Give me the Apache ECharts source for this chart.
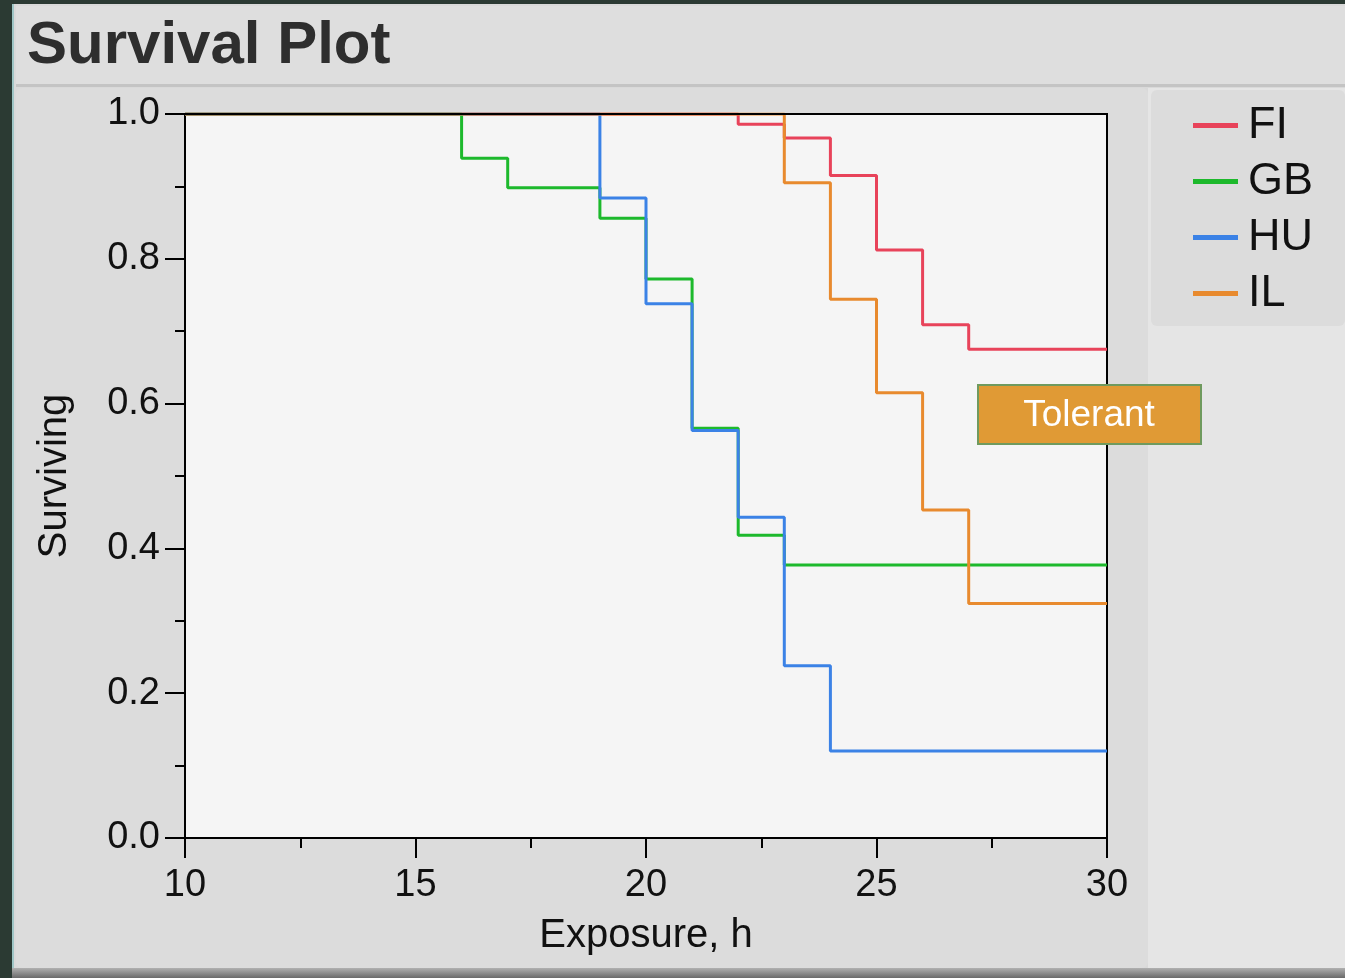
<!DOCTYPE html>
<html>
<head>
<meta charset="utf-8">
<script src="https://cdn.jsdelivr.net/npm/echarts@6/dist/echarts.min.js"></script>
<style>
html,body{margin:0;padding:0;background:#2b3a33;}
#chart{width:1345px;height:978px;}
</style>
</head>
<body>
<div id="chart"></div>
<script>
const seriesNames = ['FI', 'GB', 'HU', 'IL'];
const seriesColors = ['#e8435a', '#1db92c', '#3b82e6', '#e88a2e'];
// [time (h), surviving fraction after that time]
const FI = [[10, 1.0], [22, 0.986], [23, 0.967], [24, 0.915], [25, 0.812], [26, 0.709], [27, 0.675], [30, 0.675]];
const GB = [[10, 1.0], [16, 0.939], [17, 0.898], [19, 0.856], [20, 0.772], [21, 0.566], [22, 0.418], [23, 0.377], [30, 0.377]];
const HU = [[10, 1.0], [19, 0.884], [20, 0.738], [21, 0.563], [22, 0.443], [23, 0.238], [24, 0.120], [30, 0.120]];
const IL = [[10, 1.0], [23, 0.905], [24, 0.744], [25, 0.615], [26, 0.453], [27, 0.324], [30, 0.324]];
const seriesData = [FI, GB, HU, IL];
const xTicks = [10, 15, 20, 25, 30];
const yTicks = [0.0, 0.2, 0.4, 0.6, 0.8, 1.0];
const titleText = 'Survival Plot';
const xName = 'Exposure, h';
const yName = 'Surviving';
const annotationText = 'Tolerant';

const chart = echarts.init(document.getElementById('chart'), null, {renderer: 'canvas'});
const font = 'Liberation Sans, Arial, Helvetica, sans-serif';
const G = {left: 185, right: 238, top: 114, bottom: 140};

const option = {
  animation: false,
  backgroundColor: '#2b3a33',
  title: {
    text: titleText, left: 22, top: 11,
    textStyle: {fontFamily: font, fontSize: 60, fontWeight: 'bold', color: '#2e2e2e'}
  },
  legend: {
    data: seriesNames, orient: 'vertical', left: 1193, top: 103, padding: 0,
    icon: 'rect', itemWidth: 45, itemHeight: 5, itemGap: 11,
    textStyle: {fontFamily: font, fontSize: 45, lineHeight: 44, color: '#111', padding: [0, 0, 0, 5]},
    selectedMode: false
  },
  grid: {left: G.left, right: G.right, top: G.top, bottom: G.bottom, show: true, backgroundColor: '#f5f5f5', borderColor: '#000', borderWidth: 2},
  xAxis: {
    type: 'value', min: 10, max: 30, interval: 5,
    name: xName, nameLocation: 'middle', nameGap: 78,
    nameTextStyle: {fontFamily: font, fontSize: 40, color: '#111'},
    axisLine: {show: true, lineStyle: {color: '#000', width: 2}},
    axisTick: {show: true, length: 20, lineStyle: {color: '#000', width: 2}},
    minorTick: {show: true, splitNumber: 2, length: 10, lineStyle: {color: '#000', width: 2}},
    axisLabel: {fontFamily: font, fontSize: 38, color: '#111', margin: 29},
    splitLine: {show: false}
  },
  yAxis: {
    type: 'value', min: 0, max: 1, interval: 0.2,
    name: yName, nameLocation: 'middle', nameGap: 110,
    nameTextStyle: {fontFamily: font, fontSize: 40, color: '#111'},
    axisLine: {show: true, lineStyle: {color: '#000', width: 2}},
    axisTick: {show: true, length: 20, lineStyle: {color: '#000', width: 2}},
    minorTick: {show: true, splitNumber: 2, length: 10, lineStyle: {color: '#000', width: 2}},
    axisLabel: {fontFamily: font, fontSize: 38, color: '#111', margin: 25, formatter: v => v.toFixed(1)},
    splitLine: {show: false}
  },
  series: seriesNames.map((n, i) => ({
    name: n, type: 'line', step: 'end', data: seriesData[i],
    showSymbol: false, symbol: 'none', color: seriesColors[i],
    lineStyle: {color: seriesColors[i], width: 3}, z: 3
  })),
  graphic: [
    {type: 'rect', z: -10, shape: {x: 12, y: 4, width: 1333, height: 970}, style: {fill: '#d9d9d9'}},
    {type: 'rect', z: -10, shape: {x: 12, y: 4, width: 2, height: 970}, style: {fill: '#9fc6c6'}},
    {type: 'rect', z: -9, shape: {x: 16, y: 6, width: 1329, height: 78}, style: {fill: '#dedede'}},
    {type: 'rect', z: -9, shape: {x: 16, y: 84, width: 1329, height: 3}, style: {fill: '#c4c4c4'}},
    {type: 'rect', z: -9, shape: {x: 16, y: 88, width: 1132, height: 880, r: 6}, style: {fill: '#dcdcdc'}},
    {type: 'rect', z: -9, shape: {x: 1148, y: 88, width: 197, height: 880}, style: {fill: '#e5e5e5'}},
    {type: 'rect', z: -8, shape: {x: 1151, y: 90, width: 194, height: 236, r: 6}, style: {fill: '#dcdcdc'}},
    {type: 'rect', z: -8, shape: {x: 12, y: 968, width: 1333, height: 10},
      style: {fill: new echarts.graphic.LinearGradient(0, 0, 0, 1, [{offset: 0, color: '#b0b0b0'}, {offset: 1, color: '#6a6a6a'}])}},
    {type: 'rect', z: 50, silent: true, shape: {x: G.left, y: G.top - 1, width: 1345 - G.left - G.right, height: 2}, style: {fill: '#000'}},
    {type: 'group', left: 977, top: 384, z: 100, children: [
      {type: 'rect', shape: {x: 0, y: 0, width: 223, height: 59}, style: {fill: '#e09a35', stroke: '#6f9a5e', lineWidth: 2}},
      {type: 'text', style: {text: annotationText, x: 111, y: 31, align: 'center', verticalAlign: 'middle', fill: '#fff', font: '37px ' + font}}
    ]}
  ]
};
chart.setOption(option);
</script>
</body>
</html>
